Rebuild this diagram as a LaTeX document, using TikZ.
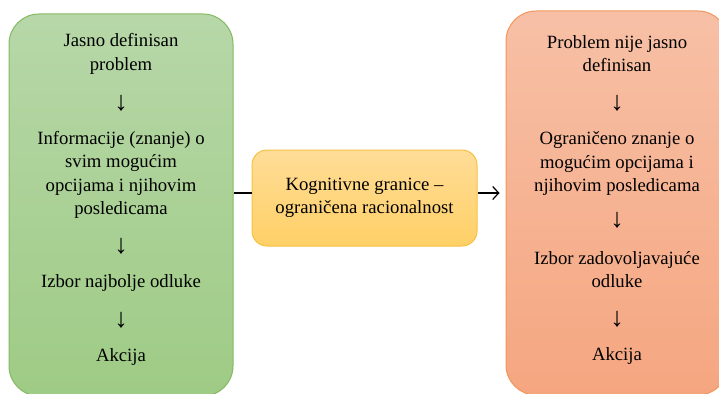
\documentclass[tikz,border=0pt]{standalone}
\usepackage{fontspec}
\setmainfont{Liberation Serif}
\usetikzlibrary{arrows.meta}
\definecolor{greenTop}{RGB}{183,215,168}
\definecolor{greenBot}{RGB}{158,203,133}
\definecolor{greenLine}{RGB}{132,185,98}
\definecolor{salmonTop}{RGB}{247,192,166}
\definecolor{salmonBot}{RGB}{245,166,128}
\definecolor{salmonLine}{RGB}{242,150,90}
\definecolor{amberTop}{RGB}{255,221,152}
\definecolor{amberBot}{RGB}{255,208,102}
\definecolor{amberLine}{RGB}{246,193,66}
\newcommand{\txt}{\fontsize{18.7}{23.5}\selectfont}
\newcommand{\downsym}{\fontsize{27}{27}\selectfont ↓}
\tikzset{
  column/.style={draw, line width=1pt, rounded corners=30pt, minimum width=224pt},
  mid/.style={draw=amberLine, line width=1pt, rounded corners=15pt,
    top color=amberTop, bottom color=amberBot,
    minimum width=225pt, minimum height=96pt, align=center, font=\txt},
  txt/.style={align=center, font=\txt, inner sep=0pt},
  down/.style={inner sep=0pt},
  link/.style={line width=1.2pt, draw=black},
}
\begin{document}
\begin{tikzpicture}[x=1pt,y=-1pt]
\useasboundingbox (0,0) rectangle (719,393);
\clip (0,0) rectangle (719,393);
% left column: classical rational decision
\node[column, draw=greenLine, top color=greenTop, bottom color=greenBot,
  minimum height=382pt] (L) at (121,205) {};
\node[txt] (l1) at (121,54) {Jasno definisan\\problem};
\node[down] (la1) at (121,103) {\downsym};
\node[txt] (l2) at (121,175) {Informacije (znanje) o\\svim mogućim\\opcijama i njihovim\\posledicama};
\node[down] (la2) at (121,246) {\downsym};
\node[txt] (l3) at (121,283) {Izbor najbolje odluke};
\node[down] (la3) at (121,320) {\downsym};
\node[txt] (l4) at (121,357) {Akcija};
% right column: bounded rationality
\node[column, draw=salmonLine, top color=salmonTop, bottom color=salmonBot,
  minimum width=222pt, minimum height=384pt] (R) at (617,203) {};
\node[txt] (r1) at (617,53.5) {Problem nije jasno\\definisan};
\node[down] (ra1) at (617,103) {\downsym};
\node[txt] (r2) at (617,163.5) {Ograničeno znanje o\\mogućim opcijama i\\njihovim posledicama};
\node[down] (ra2) at (617,220) {\downsym};
\node[txt] (r3) at (617,269.5) {Izbor zadovoljavajuće\\odluke};
\node[down] (ra3) at (617,319) {\downsym};
\node[txt] (r4) at (617,356) {Akcija};
% middle filter
\node[mid] (M) at (364.5,198) {Kognitivne granice –\\ograničena racionalnost};
\draw[link] (L.east |- 0,193) -- (M.west |- 0,193);
\draw[link, -{Straight Barb[length=6pt,width=13pt]}, shorten >=6pt]
  (M.east |- 0,193) -- (R.west |- 0,193);
\end{tikzpicture}
\end{document}
